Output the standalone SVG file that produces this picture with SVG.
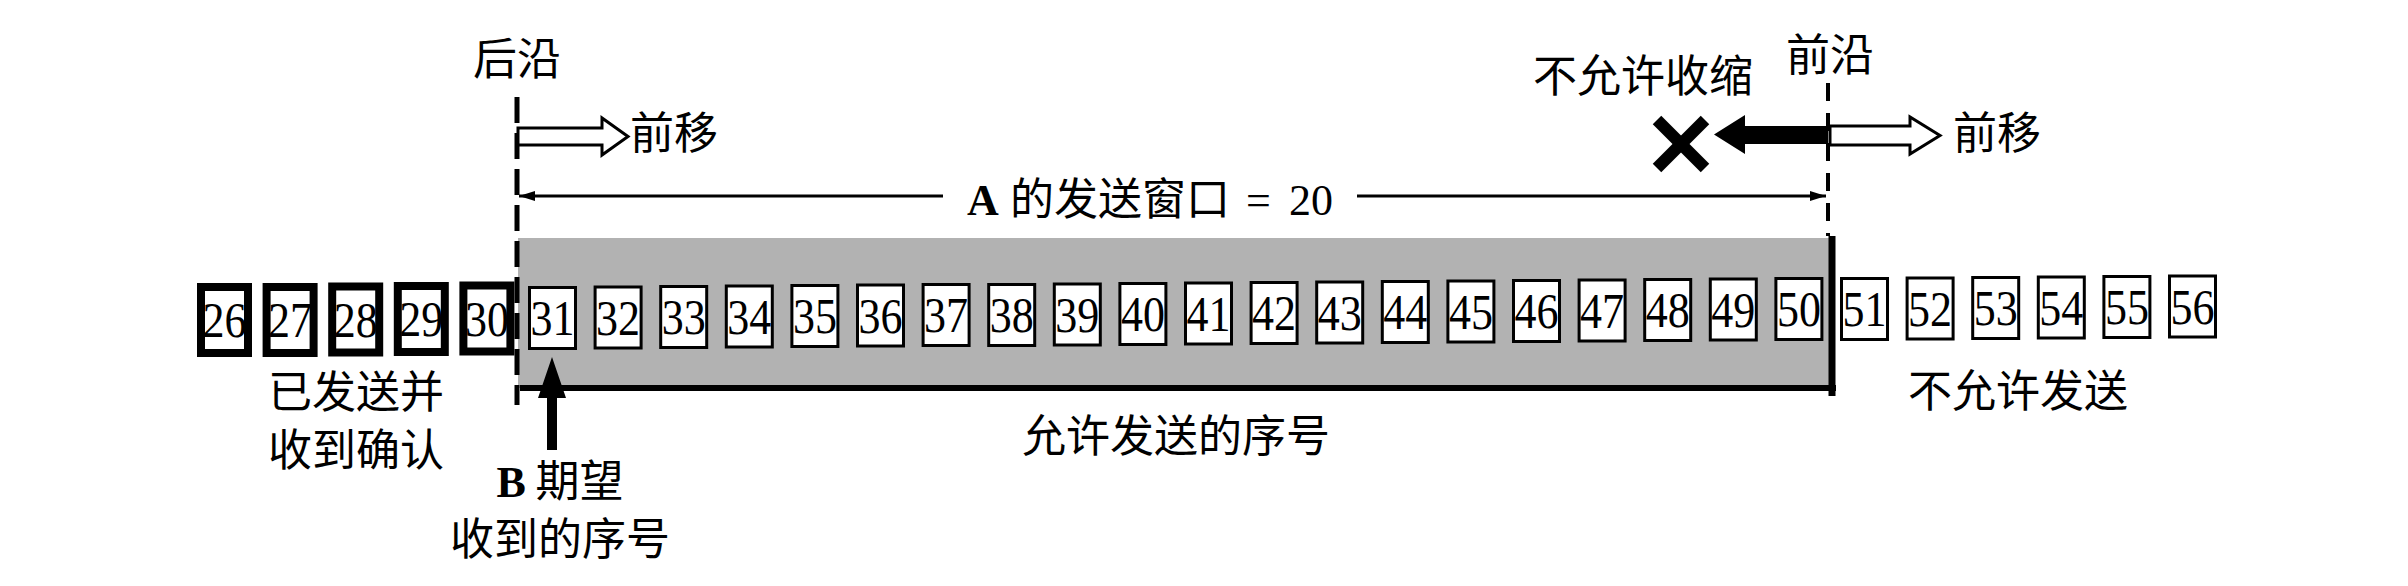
<svg xmlns="http://www.w3.org/2000/svg" width="2408" height="586" viewBox="0 0 2408 586">
<style>
.bx{fill:#fff;stroke:#000;stroke-width:3}
.bxk{fill:#fff;stroke:#000;stroke-width:8}
.num{font-family:"Liberation Serif",serif;font-size:50px;text-anchor:middle;fill:#000}
.cjk{font-family:"Noto Sans CJK SC",sans-serif;font-size:44px;fill:#000}
.mid{text-anchor:middle}
.ser{font-family:"Liberation Serif","Noto Sans CJK SC",serif;font-size:44px;fill:#000}
.dim{stroke:#000;stroke-width:3;fill:none}
.hollow{fill:#fff;stroke:#000;stroke-width:3;stroke-linejoin:miter}
</style>
<defs>
<marker id="ah" viewBox="0 0 16 10" refX="16" refY="5" markerWidth="16" markerHeight="10" markerUnits="userSpaceOnUse" orient="auto">
<path d="M0,0 L16,5 L0,10 z" fill="#000"/>
</marker>
</defs>
<rect width="2408" height="586" fill="#fff"/>

<g id="window-band">
<rect x="518" y="238" width="1312" height="150" fill="#b2b2b2"/>
<line x1="520" y1="388" x2="1836" y2="388" stroke="#000" stroke-width="6"/>
<line x1="1832" y1="236" x2="1832" y2="396" stroke="#000" stroke-width="7"/>
</g>

<g id="edges">
<line x1="517" y1="97" x2="517" y2="405" stroke="#000" stroke-width="5" stroke-dasharray="26 10"/>
<line x1="1828" y1="83" x2="1828" y2="236" stroke="#000" stroke-width="4" stroke-dasharray="18 12"/>
</g>

<g id="boxes">
<g id="box-26" transform="translate(200,288)"><rect class="bxk" x="1" y="-1" width="47" height="66"/><text class="num" x="24.5" y="49" textLength="44" lengthAdjust="spacingAndGlyphs">26</text></g>
<g id="box-27" transform="translate(265.6,288)"><rect class="bxk" x="1" y="-1" width="47" height="66"/><text class="num" x="24.5" y="49" textLength="44" lengthAdjust="spacingAndGlyphs">27</text></g>
<g id="box-28" transform="translate(331.2,287.5)"><rect class="bxk" x="1" y="-1" width="47" height="66"/><text class="num" x="24.5" y="49" textLength="44" lengthAdjust="spacingAndGlyphs">28</text></g>
<g id="box-29" transform="translate(396.8,287)"><rect class="bxk" x="1" y="-1" width="47" height="66"/><text class="num" x="24.5" y="49" textLength="44" lengthAdjust="spacingAndGlyphs">29</text></g>
<g id="box-30" transform="translate(462.4,286.5)"><rect class="bxk" x="1" y="-1" width="47" height="66"/><text class="num" x="24.5" y="49" textLength="44" lengthAdjust="spacingAndGlyphs">30</text></g>
<g id="box-31" transform="translate(528,286)"><rect class="bx" x="1.5" y="1.5" width="46" height="61"/><text class="num" x="24.5" y="49" textLength="44" lengthAdjust="spacingAndGlyphs">31</text></g>
<g id="box-32" transform="translate(593.6,285.5)"><rect class="bx" x="1.5" y="1.5" width="46" height="61"/><text class="num" x="24.5" y="49" textLength="44" lengthAdjust="spacingAndGlyphs">32</text></g>
<g id="box-33" transform="translate(659.2,285)"><rect class="bx" x="1.5" y="1.5" width="46" height="61"/><text class="num" x="24.5" y="49" textLength="44" lengthAdjust="spacingAndGlyphs">33</text></g>
<g id="box-34" transform="translate(724.8,284.5)"><rect class="bx" x="1.5" y="1.5" width="46" height="61"/><text class="num" x="24.5" y="49" textLength="44" lengthAdjust="spacingAndGlyphs">34</text></g>
<g id="box-35" transform="translate(790.4,284)"><rect class="bx" x="1.5" y="1.5" width="46" height="61"/><text class="num" x="24.5" y="49" textLength="44" lengthAdjust="spacingAndGlyphs">35</text></g>
<g id="box-36" transform="translate(856,283.5)"><rect class="bx" x="1.5" y="1.5" width="46" height="61"/><text class="num" x="24.5" y="49" textLength="44" lengthAdjust="spacingAndGlyphs">36</text></g>
<g id="box-37" transform="translate(921.6,283)"><rect class="bx" x="1.5" y="1.5" width="46" height="61"/><text class="num" x="24.5" y="49" textLength="44" lengthAdjust="spacingAndGlyphs">37</text></g>
<g id="box-38" transform="translate(987.2,283)"><rect class="bx" x="1.5" y="1.5" width="46" height="61"/><text class="num" x="24.5" y="49" textLength="44" lengthAdjust="spacingAndGlyphs">38</text></g>
<g id="box-39" transform="translate(1052.8,282.5)"><rect class="bx" x="1.5" y="1.5" width="46" height="61"/><text class="num" x="24.5" y="49" textLength="44" lengthAdjust="spacingAndGlyphs">39</text></g>
<g id="box-40" transform="translate(1118.4,282)"><rect class="bx" x="1.5" y="1.5" width="46" height="61"/><text class="num" x="24.5" y="49" textLength="44" lengthAdjust="spacingAndGlyphs">40</text></g>
<g id="box-41" transform="translate(1184,281.5)"><rect class="bx" x="1.5" y="1.5" width="46" height="61"/><text class="num" x="24.5" y="49" textLength="44" lengthAdjust="spacingAndGlyphs">41</text></g>
<g id="box-42" transform="translate(1249.6,281)"><rect class="bx" x="1.5" y="1.5" width="46" height="61"/><text class="num" x="24.5" y="49" textLength="44" lengthAdjust="spacingAndGlyphs">42</text></g>
<g id="box-43" transform="translate(1315.2,280.5)"><rect class="bx" x="1.5" y="1.5" width="46" height="61"/><text class="num" x="24.5" y="49" textLength="44" lengthAdjust="spacingAndGlyphs">43</text></g>
<g id="box-44" transform="translate(1380.8,280)"><rect class="bx" x="1.5" y="1.5" width="46" height="61"/><text class="num" x="24.5" y="49" textLength="44" lengthAdjust="spacingAndGlyphs">44</text></g>
<g id="box-45" transform="translate(1446.4,279.5)"><rect class="bx" x="1.5" y="1.5" width="46" height="61"/><text class="num" x="24.5" y="49" textLength="44" lengthAdjust="spacingAndGlyphs">45</text></g>
<g id="box-46" transform="translate(1512,279)"><rect class="bx" x="1.5" y="1.5" width="46" height="61"/><text class="num" x="24.5" y="49" textLength="44" lengthAdjust="spacingAndGlyphs">46</text></g>
<g id="box-47" transform="translate(1577.6,278.5)"><rect class="bx" x="1.5" y="1.5" width="46" height="61"/><text class="num" x="24.5" y="49" textLength="44" lengthAdjust="spacingAndGlyphs">47</text></g>
<g id="box-48" transform="translate(1643.2,278)"><rect class="bx" x="1.5" y="1.5" width="46" height="61"/><text class="num" x="24.5" y="49" textLength="44" lengthAdjust="spacingAndGlyphs">48</text></g>
<g id="box-49" transform="translate(1708.8,277.5)"><rect class="bx" x="1.5" y="1.5" width="46" height="61"/><text class="num" x="24.5" y="49" textLength="44" lengthAdjust="spacingAndGlyphs">49</text></g>
<g id="box-50" transform="translate(1774.4,277)"><rect class="bx" x="1.5" y="1.5" width="46" height="61"/><text class="num" x="24.5" y="49" textLength="44" lengthAdjust="spacingAndGlyphs">50</text></g>
<g id="box-51" transform="translate(1840,277)"><rect class="bx" x="1.5" y="1.5" width="46" height="61"/><text class="num" x="24.5" y="49" textLength="44" lengthAdjust="spacingAndGlyphs">51</text></g>
<g id="box-52" transform="translate(1905.6,276.5)"><rect class="bx" x="1.5" y="1.5" width="46" height="61"/><text class="num" x="24.5" y="49" textLength="44" lengthAdjust="spacingAndGlyphs">52</text></g>
<g id="box-53" transform="translate(1971.2,276)"><rect class="bx" x="1.5" y="1.5" width="46" height="61"/><text class="num" x="24.5" y="49" textLength="44" lengthAdjust="spacingAndGlyphs">53</text></g>
<g id="box-54" transform="translate(2036.8,275.5)"><rect class="bx" x="1.5" y="1.5" width="46" height="61"/><text class="num" x="24.5" y="49" textLength="44" lengthAdjust="spacingAndGlyphs">54</text></g>
<g id="box-55" transform="translate(2102.4,275)"><rect class="bx" x="1.5" y="1.5" width="46" height="61"/><text class="num" x="24.5" y="49" textLength="44" lengthAdjust="spacingAndGlyphs">55</text></g>
<g id="box-56" transform="translate(2168,274.5)"><rect class="bx" x="1.5" y="1.5" width="46" height="61"/><text class="num" x="24.5" y="49" textLength="44" lengthAdjust="spacingAndGlyphs">56</text></g>
</g>

<g id="connectors">
<line class="dim" x1="943" y1="196" x2="519" y2="196" marker-end="url(#ah)"/>
<line class="dim" x1="1357" y1="196" x2="1826" y2="196" marker-end="url(#ah)"/>
<polygon class="hollow" points="518,128 602,128 602,118 628,136.5 602,155 602,145 518,145"/>
<polygon class="hollow" points="1830,126 1910,126 1910,117 1940,135.5 1910,154 1910,145 1830,145"/>
<polygon fill="#000" points="1828,126 1745,126 1745,115 1714,134.5 1745,154 1745,144 1828,144"/>
<g stroke="#000" stroke-width="12">
<line x1="1657" y1="120" x2="1705" y2="168"/>
<line x1="1705" y1="120" x2="1657" y2="168"/>
</g>
<polygon fill="#000" points="552,357 566,398 557,398 557,450 547,450 547,398 538,398"/>
</g>

<g id="labels">
<text id="lbl-trailing" class="cjk mid" x="517" y="75">后沿</text>
<text id="lbl-leading" class="cjk mid" x="1830" y="71">前沿</text>
<text id="lbl-move-left" class="cjk" x="630" y="149">前移</text>
<text id="lbl-move-right" class="cjk" x="1953" y="149">前移</text>
<text id="lbl-noshrink" class="cjk" x="1533" y="92">不允许收缩</text>
<text id="lbl-window" class="ser" y="215"><tspan x="967" font-weight="bold">A</tspan><tspan x="1010">的发送窗口</tspan><tspan x="1246">=</tspan><tspan x="1289">20</tspan></text>
<text id="lbl-acked-1" class="cjk mid" x="356" y="408">已发送并</text>
<text id="lbl-acked-2" class="cjk mid" x="356" y="466">收到确认</text>
<text id="lbl-expected" class="cjk mid" x="560"><tspan x="560" y="497"><tspan font-family="Liberation Serif" font-weight="bold">B</tspan> 期望</tspan><tspan x="560" y="555">收到的序号</tspan></text>
<text id="lbl-allowed" class="cjk mid" x="1176" y="452">允许发送的序号</text>
<text id="lbl-notallowed" class="cjk" x="1908" y="407">不允许发送</text>
</g>
</svg>
